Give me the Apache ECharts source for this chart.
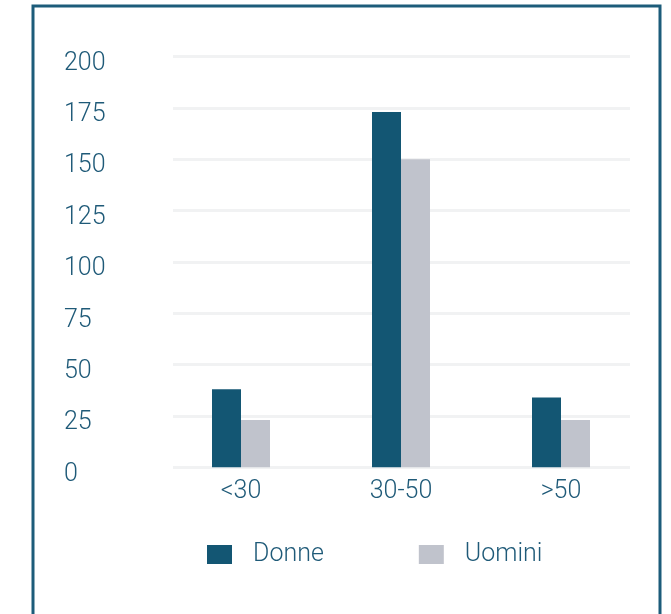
<!DOCTYPE html>
<html>
<head>
<meta charset="utf-8">
<script src="https://cdn.jsdelivr.net/npm/echarts@6/dist/echarts.min.js"></script>
<style>
  html, body { margin: 0; padding: 0; background: #ffffff; }
  #chart { width: 671px; height: 614px; }
</style>
</head>
<body>
<div id="chart"></div>
<script>
// Age bands and headcount by gender
const categories = ['<30', '30-50', '>50'];
const donne = [38, 173, 34];
const uomini = [23, 150, 23];
const seriesNames = ['Donne', 'Uomini'];

const textColor = '#1f5a78';
const fontFamily = 'Roboto, "Open Sans", "Noto Sans", sans-serif';

const chart = echarts.init(document.getElementById('chart'));

const yScale = { type: 'value', min: 0, max: 200, interval: 25 };

chart.setOption({
  animation: false,
  graphic: [{
    type: 'rect',
    shape: { x: 33, y: 6, width: 627, height: 640 },
    style: { fill: 'none', stroke: '#1c5c7a', lineWidth: 3 },
    z: 0
  }],
  legend: {
    data: seriesNames,
    left: 202,
    top: 537,
    itemWidth: 25,
    itemHeight: 19,
    itemGap: 95,
    icon: 'rect',
    textStyle: { color: textColor, fontSize: 25, fontFamily, fontWeight: 300, padding: [0, 0, 0, 16], letterSpacing: 2 }
  },
  grid: [
    // background grid lines
    { left: 173, right: 41, top: 56.5, bottom: 146.7 },
    // bars
    { left: 161, right: 30, top: 56.5, bottom: 146.7 }
  ],
  xAxis: [
    { gridIndex: 0, type: 'value', min: 0, max: 1, show: false },
    {
      gridIndex: 1,
      type: 'category',
      data: categories,
      axisLine: { show: false },
      axisTick: { show: false },
      axisLabel: { color: textColor, fontSize: 25, fontFamily, fontWeight: 300, margin: 12 }
    }
  ],
  yAxis: [
    Object.assign({
      gridIndex: 0,
      axisLine: { show: false },
      axisTick: { show: false },
      axisLabel: { show: false },
      splitLine: { show: true, lineStyle: { color: '#f1f2f3', width: 3 } }
    }, yScale),
    Object.assign({
      gridIndex: 1,
      axisLine: { show: false },
      axisTick: { show: false },
      splitLine: { show: false },
      axisLabel: {
        color: textColor, fontSize: 25, fontFamily, fontWeight: 300,
        align: 'left', margin: 97, verticalAlign: 'top', lineHeight: 14
      }
    }, yScale)
  ],
  series: [
    {
      name: seriesNames[0], type: 'bar', xAxisIndex: 1, yAxisIndex: 1,
      data: donne, barWidth: 29, barGap: '0%',
      itemStyle: { color: '#135673' }, z: 3
    },
    {
      name: seriesNames[1], type: 'bar', xAxisIndex: 1, yAxisIndex: 1,
      data: uomini, barWidth: 29, barGap: '0%',
      itemStyle: { color: '#c0c3cc' }, z: 3
    }
  ]
});
</script>
</body>
</html>
